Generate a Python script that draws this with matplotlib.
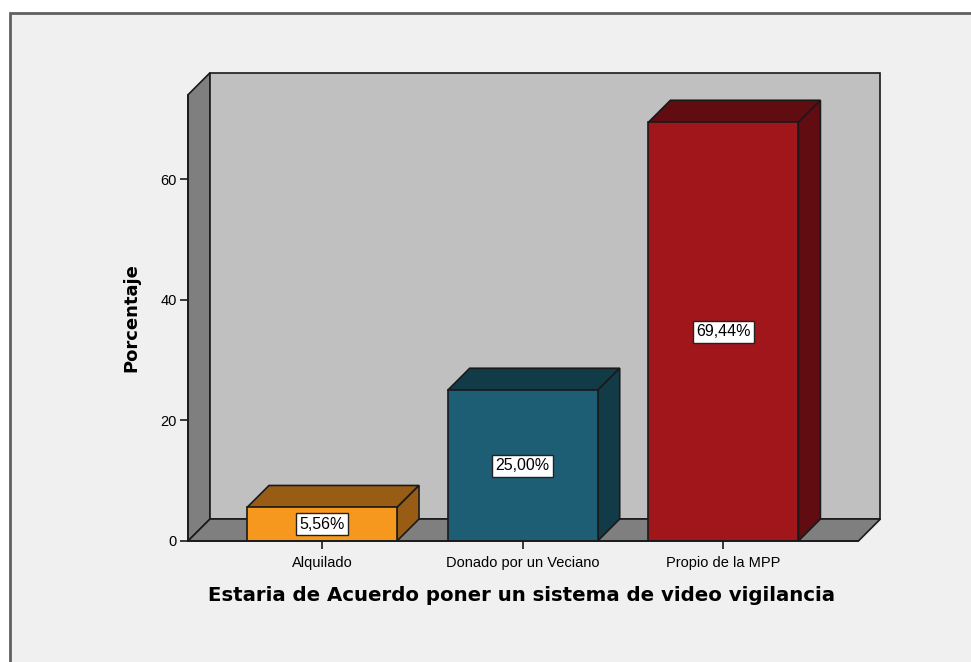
import matplotlib.pyplot as plt
from matplotlib.patches import Polygon, Rectangle

categorias = ['Alquilado', 'Donado por un Veciano', 'Propio de la MPP']
porcentajes = [5.56, 25.00, 69.44]
etiquetas = ['5,56%', '25,00%', '69,44%']
colores_frente = ['#f7981e', '#1e5e75', '#a1161a']
colores_lado = ['#995c14', '#123b48', '#600c10']
yticks = [0, 20, 40, 60]

plt.rcParams['font.family'] = ['Liberation Sans', 'DejaVu Sans']

dpi = 100
fig = plt.figure(figsize=(971 / dpi, 662 / dpi), dpi=dpi, facecolor='white')

# marco exterior gris claro
fig.patches.append(Rectangle((10 / 971, -0.01), 1.0, (662 - 13) / 662 + 0.01,
                             transform=fig.transFigure, facecolor='#f0f0f0',
                             edgecolor='#606060', linewidth=2, zorder=-10))

# escala: 200.7 px por categoria, 6.03 px por unidad
px_cat = 200.7
px_y = 6.03
x0 = 0 - (322 - 188) / px_cat
x1 = 2 + (858 - 723) / px_cat
dx = 22 / px_cat
dy = 22 / px_y
ytop = 74
ancho = 150 / px_cat

ax = fig.add_axes([188 / 971, (662 - 541) / 662, (878 - 188) / 971, (541 - 73) / 662])
ax.set_zorder(1)
ax.set_xlim(x0, x0 + (878 - 188) / px_cat)
ax.set_ylim(0, (541 - 73) / px_y)
ax.patch.set_alpha(0)

ec = '#1a1a1a'
# pared lateral, fondo y piso
ax.add_patch(Polygon([(x0, 0), (x0, ytop), (x0 + dx, ytop + dy), (x0 + dx, dy)],
                     closed=True, facecolor='#7f7f7f', edgecolor=ec, lw=1.2, zorder=1, clip_on=False))
ax.add_patch(Polygon([(x0 + dx, dy), (x0 + dx, ytop + dy), (x1 + dx, ytop + dy), (x1 + dx, dy)],
                     closed=True, facecolor='#c0c0c0', edgecolor=ec, lw=1.2, zorder=1, clip_on=False))
ax.add_patch(Polygon([(x0, 0), (x1, 0), (x1 + dx, dy), (x0 + dx, dy)],
                     closed=True, facecolor='#7f7f7f', edgecolor=ec, lw=1.2, zorder=1, clip_on=False))

for i, v in enumerate(porcentajes):
    l = i - ancho / 2
    r = i + ancho / 2
    ax.add_patch(Polygon([(l, v), (l + dx, v + dy), (r + dx, v + dy), (r, v)],
                         closed=True, facecolor=colores_lado[i], edgecolor=ec, lw=1.2, zorder=3))
    ax.add_patch(Polygon([(r, 0), (r + dx, dy), (r + dx, v + dy), (r, v)],
                         closed=True, facecolor=colores_lado[i], edgecolor=ec, lw=1.2, zorder=3))
    ax.add_patch(Rectangle((l, 0), ancho, v, facecolor=colores_frente[i],
                           edgecolor=ec, lw=1.2, zorder=4))
    ax.text(i, v / 2, etiquetas[i], ha='center', va='center', fontsize=11.5, zorder=5,
            bbox=dict(boxstyle='square,pad=0.22', facecolor='white', edgecolor='#222222', lw=1))

for s in ['top', 'right']:
    ax.spines[s].set_visible(False)
ax.spines['left'].set_bounds(0, ytop)
ax.spines['bottom'].set_bounds(x0, x1)
ax.spines['left'].set_color(ec)
ax.spines['bottom'].set_color(ec)
ax.spines['left'].set_linewidth(1.2)
ax.spines['bottom'].set_linewidth(1.2)
ax.spines['left'].set_zorder(6)
ax.spines['bottom'].set_zorder(6)

ax.set_yticks(yticks)
ax.set_yticklabels([str(t) for t in yticks], fontsize=10.5)
ax.set_xticks(range(len(categorias)))
ax.set_xticklabels(categorias, fontsize=10.5)
ax.tick_params(axis='both', direction='out', length=6, width=1.2, color=ec)
ax.tick_params(axis='y', pad=2)
ax.tick_params(axis='x', pad=5)

ax.set_ylabel('Porcentaje', fontsize=13, fontweight='bold', family='DejaVu Sans')
ax.yaxis.set_label_coords(-(188 - 140) / (878 - 188), (541 - 318) / (541 - 73))
ax.set_xlabel('Estaria de Acuerdo poner un sistema de video vigilancia',
              fontsize=14.2, fontweight='bold', family='DejaVu Sans')
ax.xaxis.set_label_coords((521 - 188) / (878 - 188), -(586 - 541) / (541 - 73))

fig.savefig('out.png', dpi=dpi, facecolor='white')
